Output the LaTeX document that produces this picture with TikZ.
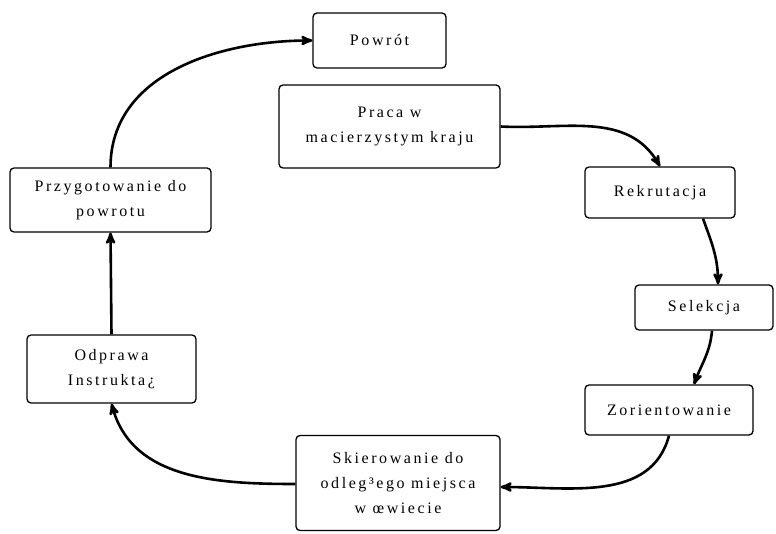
\documentclass[tikz,border=0pt]{standalone}
\usepackage{fontspec}
\setmainfont{Liberation Serif}[LetterSpace=16]
\usepackage{tikz}
\usetikzlibrary{arrows,positioning}

\begin{document}
\begin{tikzpicture}[->,>=stealth',x=1pt,y=1pt,line width=2.6pt,
                    font=\fontsize{16}{25}\selectfont]
  \tikzstyle{every node}=[draw=black,line width=1.3pt,rounded corners=4pt,
                          align=center,inner sep=2pt]
  \useasboundingbox (0,0) rectangle (776,533);

  \node[minimum width=133,minimum height=55] (Powrot)  at (379.5,492.5) {Powrót};
  \node[minimum width=221,minimum height=83] (Praca)   at (389.5,406.5) {Praca w\\macierzystym kraju};
  \node[minimum width=150,minimum height=51] (Rekr)    at (660,340.5)   {Rekrutacja};
  \node[minimum width=138,minimum height=45] (Sel)     at (704,225.5)   {Selekcja};
  \node[minimum width=168,minimum height=50] (Zor)     at (669,123)     {Zorientowanie};
  \node[minimum width=204,minimum height=95] (Skier)   at (398,50)      {Skierowanie do\\odleg³ego miejsca\\w œwiecie};
  \node[minimum width=169,minimum height=68] (Odprawa) at (111.5,164)   {Odprawa\\Instrukta¿};
  \node[minimum width=201,minimum height=64] (Przyg)   at (110.5,333)   {Przygotowanie do\\powrotu};

  \path (Praca.east)                 edge [out=-3,in=120]  (Rekr.north)
        ([xshift=43pt]Rekr.south)    edge [out=-70,in=90]  ([xshift=14pt]Sel.north)
        ([xshift=8pt]Sel.south)      edge [out=-95,in=70]  ([xshift=25pt]Zor.north)
        (Zor.south)                  edge [out=-105,in=0]  ([yshift=-4pt]Skier.east)
        ([yshift=-1pt]Skier.west)    edge [out=180,in=-75] (Odprawa.south)
        (Odprawa.north)              edge                  (Przyg.south)
        (Przyg.north)                edge [out=90,in=180]  (Powrot.west);
\end{tikzpicture}
\end{document}
